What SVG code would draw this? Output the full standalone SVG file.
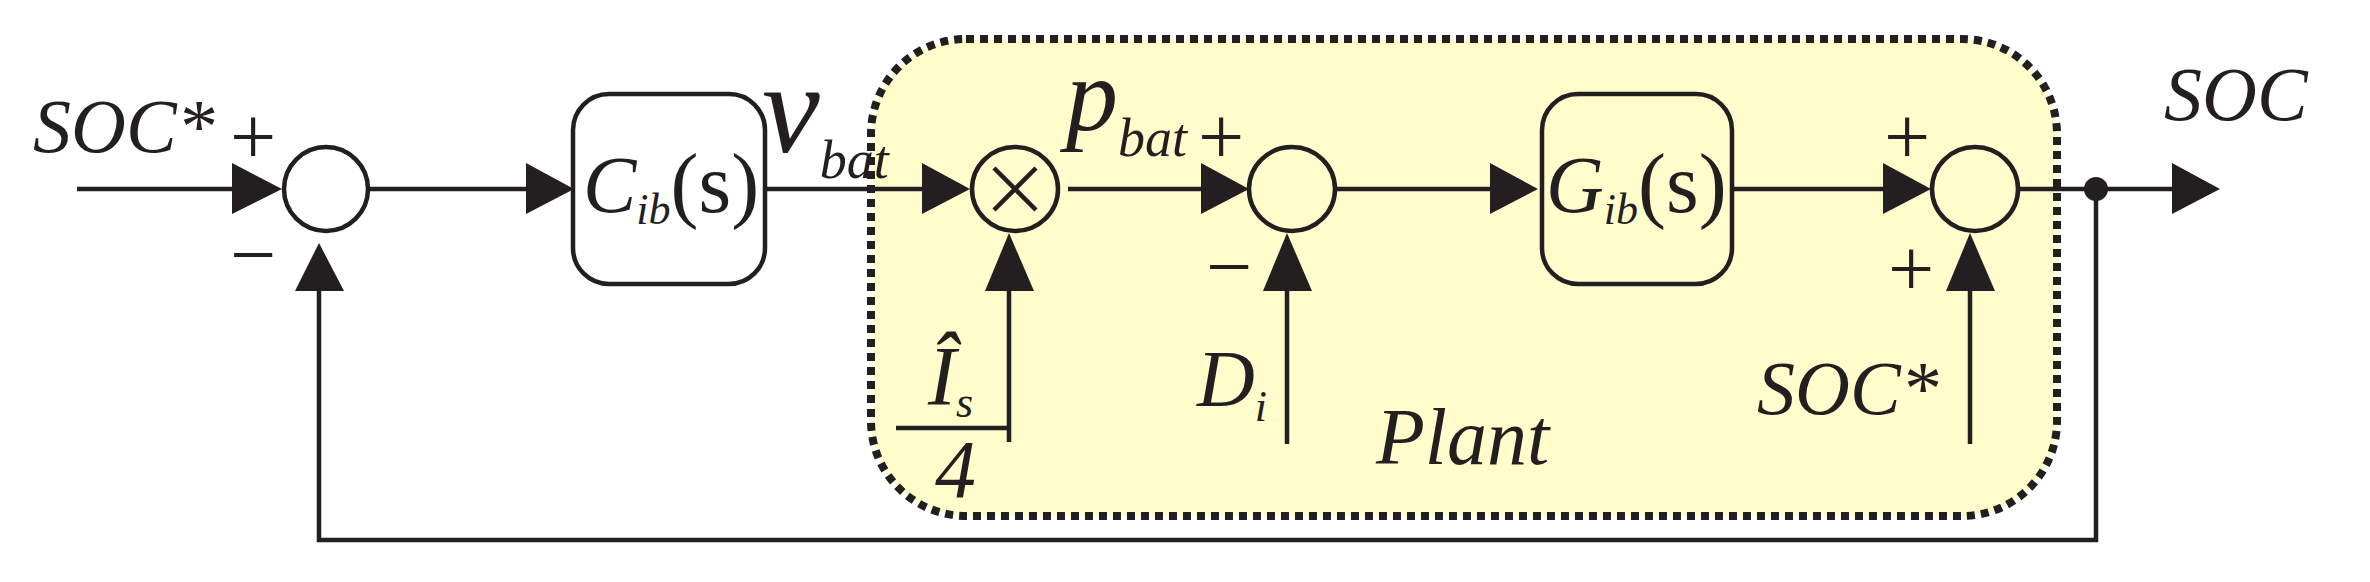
<svg xmlns="http://www.w3.org/2000/svg" width="2370" height="582" viewBox="0 0 2370 582">
<style>
.ln{stroke:#231f20;stroke-width:4.5;fill:none}
.nd{stroke:#231f20;stroke-width:4.5;fill:none}
.t{font-family:'Liberation Serif','Times New Roman','DejaVu Serif',serif;font-style:italic;fill:#231f20}
.u{font-family:'Liberation Serif','Times New Roman','DejaVu Serif',serif;fill:#231f20}
.ah{fill:#231f20}
</style>
<g id="plant">
<rect x="871" y="39" width="1186" height="477" rx="95" fill="#fffdcc" stroke="#231f20" stroke-width="8" stroke-dasharray="8 6"/>
<text class="t" x="1376" y="464" font-size="80">Plant</text>
</g>
<g id="connectors">
<path class="ln" d="M77 189H232"/><polygon class="ah" points="232,163 282,189 232,214"/>
<path class="ln" d="M369 189H526"/><polygon class="ah" points="526,163 574,189 526,214"/>
<path class="ln" d="M765 189H922"/><polygon class="ah" points="922,163 970,189 922,214"/>
<path class="ln" d="M1068 189H1201"/><polygon class="ah" points="1201,163 1249,189 1201,214"/>
<path class="ln" d="M1335 189H1490"/><polygon class="ah" points="1490,163 1538,189 1490,214"/>
<path class="ln" d="M1732 189H1883"/><polygon class="ah" points="1883,163 1931,189 1883,214"/>
<path class="ln" d="M2018 189H2172"/><polygon class="ah" points="2172,163 2220,189 2172,214"/>
<circle cx="2096" cy="189" r="12" fill="#231f20"/>
<path class="ln" d="M2096 189V540H319V290"/><polygon class="ah" points="295,291 319,243 344,291"/>
<path class="ln" d="M1009 442V290"/><polygon class="ah" points="985,291 1009,233 1034,291"/>
<path class="ln" d="M896 428H1009"/>
<path class="ln" d="M1287 444V290"/><polygon class="ah" points="1263,291 1287,233 1312,291"/>
<path class="ln" d="M1970 444V290"/><polygon class="ah" points="1946,291 1970,233 1995,291"/>
</g>
<g id="sum1"><ellipse class="nd" cx="326" cy="189" rx="42" ry="42"/></g>
<g id="mult"><ellipse class="nd" cx="1015" cy="189" rx="43" ry="42"/><path class="ln" d="M994 168L1036 210M1036 168L994 210" stroke-width="3"/></g>
<g id="sum2"><ellipse class="nd" cx="1292" cy="189" rx="43" ry="42"/></g>
<g id="sum3"><ellipse class="nd" cx="1975" cy="189" rx="43" ry="42"/></g>
<g id="C"><rect class="nd" x="573" y="94" width="192" height="190" rx="36"/>
<text x="583" y="212"><tspan class="t" font-size="80">C</tspan><tspan class="t" font-size="44" dy="12">ib</tspan><tspan class="u" font-size="84" dy="-12">(s)</tspan></text></g>
<g id="G"><rect class="nd" x="1542" y="94" width="190" height="190" rx="36"/>
<text x="1546" y="212"><tspan class="t" font-size="80">G</tspan><tspan class="t" font-size="44" dy="12">ib</tspan><tspan class="u" font-size="84" dy="-12">(s)</tspan></text></g>
<g id="labels">
<text class="t" x="33" y="152" font-size="76">SOC*</text>
<text class="u" x="230" y="164" font-size="82">+</text>
<text class="u" x="230" y="282" font-size="82">−</text>
<text x="762" y="152"><tspan class="t" font-size="130">v</tspan><tspan class="t" font-size="54" dy="26">bat</tspan></text>
<text x="1066" y="130"><tspan class="t" font-size="104">p</tspan><tspan class="t" font-size="54" dy="26">bat</tspan></text>
<text class="u" x="1198" y="164" font-size="82">+</text>
<text class="u" x="1206" y="294" font-size="82">−</text>
<text class="u" x="1884" y="164" font-size="82">+</text>
<text class="u" x="1888" y="296" font-size="82">+</text>
<text x="928" y="405"><tspan class="t" font-size="84">Î</tspan><tspan class="t" font-size="44" dy="12">s</tspan></text>
<text class="t" x="935" y="497" font-size="82">4</text>
<text x="1197" y="406"><tspan class="t" font-size="80">D</tspan><tspan class="t" font-size="44" dy="15">i</tspan></text>
<text class="t" x="1757" y="414" font-size="76">SOC*</text>
<text class="t" x="2164" y="120" font-size="76">SOC</text>
</g>
</svg>
